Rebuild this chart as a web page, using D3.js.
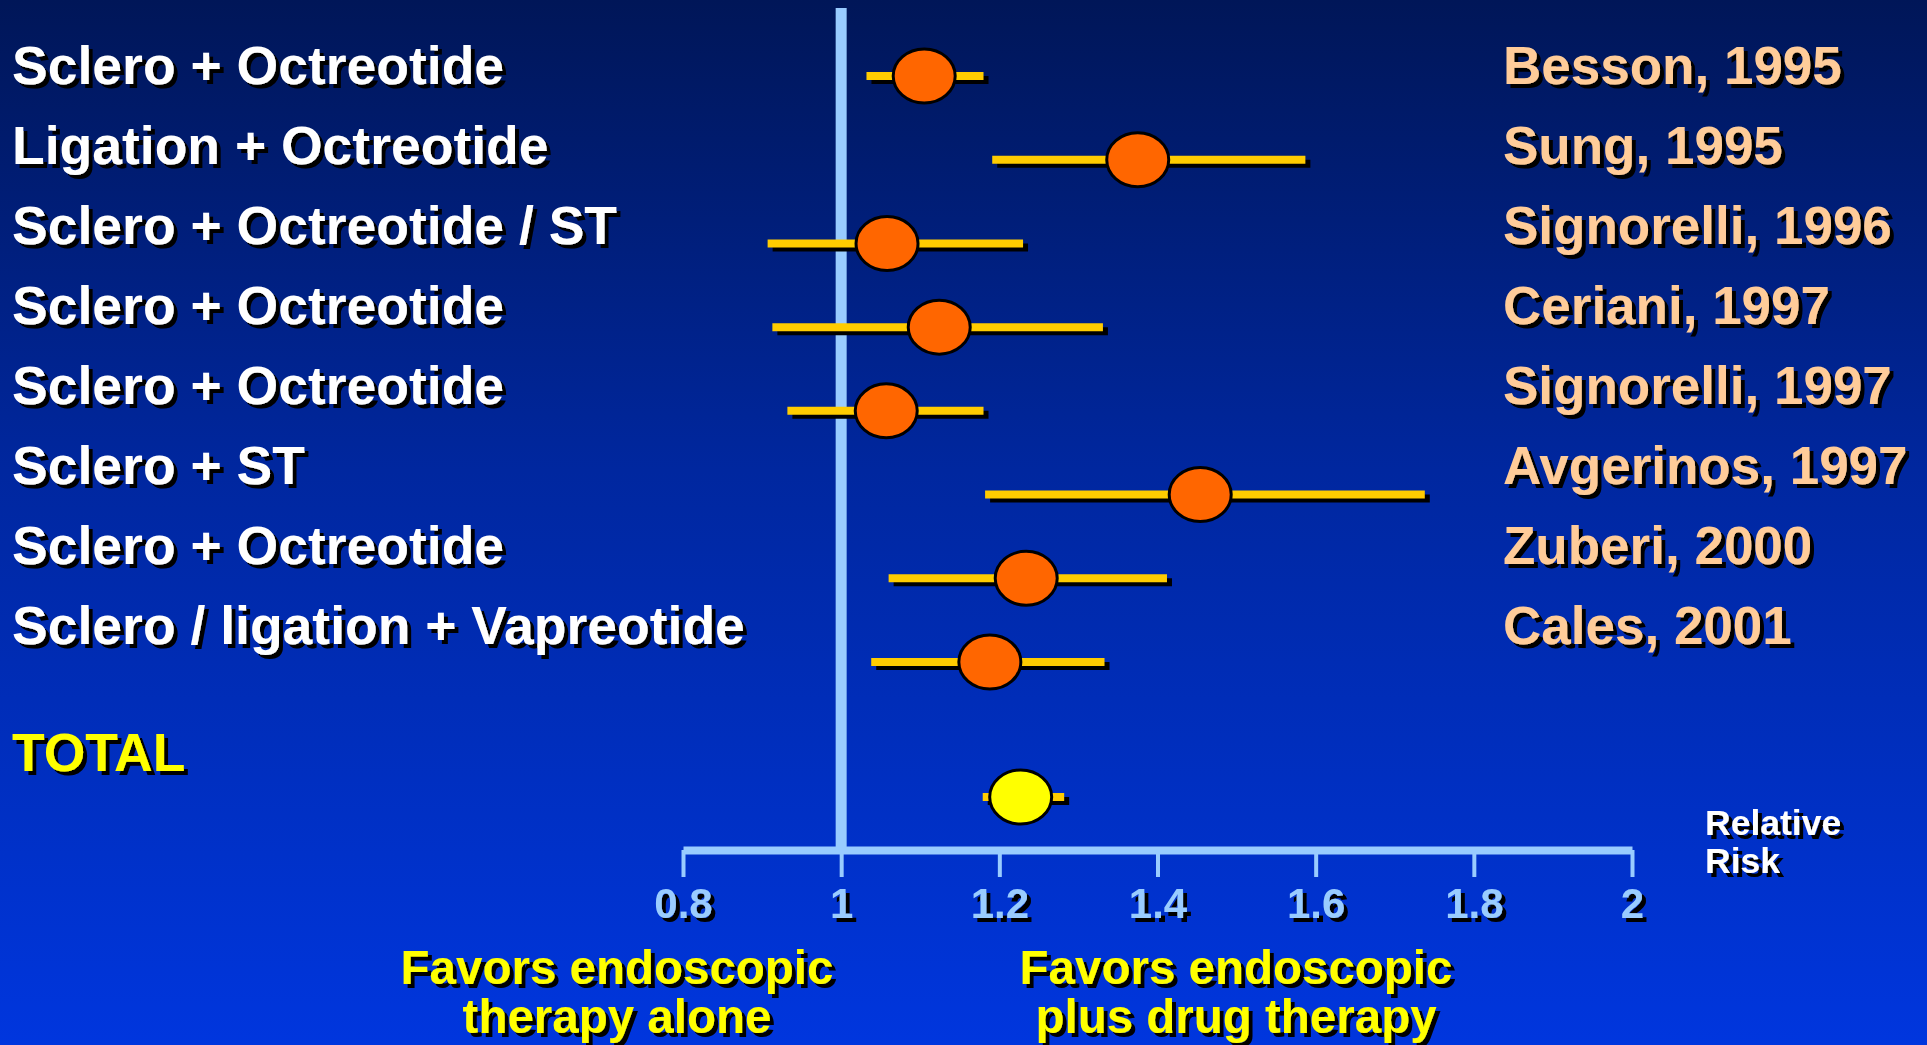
<!DOCTYPE html>
<html>
<head>
<meta charset="utf-8">
<script src="https://cdn.jsdelivr.net/npm/d3@7"></script>
<style>
  html, body { margin: 0; padding: 0; overflow: hidden; }
  #chart { width: 1927px; height: 1045px; }
  text { font-family: "Liberation Sans", Arial, sans-serif; font-weight: bold; }
</style>
</head>
<body>
<div id="chart"></div>
<script>
// treatments (left), studies (right), relative risk with confidence interval
const treatments = [
  "Sclero + Octreotide",
  "Ligation + Octreotide",
  "Sclero + Octreotide / ST",
  "Sclero + Octreotide",
  "Sclero + Octreotide",
  "Sclero + ST",
  "Sclero + Octreotide",
  "Sclero / ligation + Vapreotide"
];
const studies = [
  "Besson, 1995",
  "Sung, 1995",
  "Signorelli, 1996",
  "Ceriani, 1997",
  "Signorelli, 1997",
  "Avgerinos, 1997",
  "Zuberi, 2000",
  "Cales, 2001"
];
const rr     = [1.105, 1.375, 1.058, 1.124, 1.057, 1.454, 1.234, 1.188];
const ciLow  = [1.032, 1.191, 0.907, 0.913, 0.932, 1.182, 1.060, 1.038];
const ciHigh = [1.180, 1.587, 1.230, 1.331, 1.180, 1.738, 1.412, 1.333];

const totalLabel = "TOTAL";
const totalRR = [1.227];
const totalLow = [1.179];
const totalHigh = [1.282];

const xTicks = [0.8, 1, 1.2, 1.4, 1.6, 1.8, 2];
const axisTitle = ["Relative", "Risk"];
const favorsLeft = ["Favors endoscopic", "therapy alone"];
const favorsRight = ["Favors endoscopic", "plus drug therapy"];

const width = 1927, height = 1045;

const svg = d3.select("#chart").append("svg")
  .attr("width", width)
  .attr("height", height);

const defs = svg.append("defs");
const grad = defs.append("linearGradient")
  .attr("id", "bg").attr("x1", 0).attr("y1", 0).attr("x2", 0).attr("y2", 1);
grad.append("stop").attr("offset", "0%").attr("stop-color", "#001658");
grad.append("stop").attr("offset", "45%").attr("stop-color", "#00279f");
grad.append("stop").attr("offset", "100%").attr("stop-color", "#0036de");

const shadow = defs.append("filter").attr("id", "shadow")
  .attr("x", "-10%").attr("y", "-20%").attr("width", "130%").attr("height", "150%");
shadow.append("feDropShadow")
  .attr("dx", 4).attr("dy", 4).attr("stdDeviation", 0.6)
  .attr("flood-color", "#000").attr("flood-opacity", 1);

svg.append("rect").attr("width", width).attr("height", height).attr("fill", "url(#bg)");

// scales
const x = d3.scaleLinear().domain([0.8, 2]).range([683, 1632]);
const idx = d3.range(treatments.length);
const yMark = d3.scalePoint().domain(idx).range([76, 662]);   // CI / circles
const yText = d3.scalePoint().domain(idx).range([84, 644]);   // label baselines
const yTotalMark = 797, yTotalText = 771;
const axisY = 850;

// vertical reference line at RR = 1
svg.append("line")
  .attr("x1", x(1)).attr("x2", x(1))
  .attr("y1", 8).attr("y2", axisY)
  .attr("stroke", "#99ccff").attr("stroke-width", 11);

// axis
const axis = d3.axisBottom(x)
  .tickValues(xTicks)
  .tickFormat(d3.format(""))
  .tickSize(27)
  .tickSizeOuter(0)
  .tickPadding(11);

const gX = svg.append("g")
  .attr("transform", `translate(0,${axisY})`)
  .call(axis);
gX.select(".domain").attr("stroke", "#99ccff").attr("stroke-width", 8);
gX.selectAll(".tick line").attr("stroke", "#99ccff").attr("stroke-width", 4);
gX.selectAll(".tick text")
  .attr("fill", "#99ccff")
  .attr("font-size", 42)
  .attr("font-family", "'Liberation Sans', Arial, sans-serif")
  .attr("font-weight", "bold")
  .attr("filter", "url(#shadow)");

// CI whiskers with shadow, then circles
function drawStudy(g, lo, hi, mid, y, fill) {
  g.append("line")
    .attr("x1", x(lo) + 5).attr("x2", x(hi) + 5)
    .attr("y1", y + 4).attr("y2", y + 4)
    .attr("stroke", "#000").attr("stroke-width", 8);
  g.append("line")
    .attr("x1", x(lo)).attr("x2", x(hi))
    .attr("y1", y).attr("y2", y)
    .attr("stroke", "#ffcc00").attr("stroke-width", 8);
  g.append("ellipse")
    .attr("cx", x(mid)).attr("cy", y)
    .attr("rx", 31).attr("ry", 27)
    .attr("fill", fill)
    .attr("stroke", "#000").attr("stroke-width", 3);
}

const marks = svg.append("g");
idx.forEach(i => drawStudy(marks.append("g"), ciLow[i], ciHigh[i], rr[i], yMark(i), "#ff6600"));
drawStudy(marks.append("g"), totalLow[0], totalHigh[0], totalRR[0], yTotalMark, "#ffff00");

// left labels
svg.append("g").selectAll("text")
  .data(treatments)
  .join("text")
  .attr("x", 12)
  .attr("y", (d, i) => yText(i))
  .attr("font-size", 53.5)
  .attr("fill", "#fff")
  .attr("filter", "url(#shadow)")
  .text(d => d);

svg.append("text")
  .attr("x", 12).attr("y", yTotalText)
  .attr("font-size", 53.5)
  .attr("fill", "#ffff00")
  .attr("filter", "url(#shadow)")
  .text(totalLabel);

// right labels
svg.append("g").selectAll("text")
  .data(studies)
  .join("text")
  .attr("x", 1503)
  .attr("y", (d, i) => yText(i))
  .attr("font-size", 53)
  .attr("fill", "#ffcc99")
  .attr("filter", "url(#shadow)")
  .text(d => d);

// axis title
svg.append("g").selectAll("text")
  .data(axisTitle)
  .join("text")
  .attr("x", 1705)
  .attr("y", (d, i) => 835 + i * 38)
  .attr("font-size", 35.5)
  .attr("fill", "#fff")
  .attr("filter", "url(#shadow)")
  .text(d => d);

// favors notes
function favors(lines, cx) {
  svg.append("g").selectAll("text")
    .data(lines)
    .join("text")
    .attr("x", cx)
    .attr("y", (d, i) => 984 + i * 49)
    .attr("text-anchor", "middle")
    .attr("font-size", 47.5)
    .attr("fill", "#ffff00")
    .attr("filter", "url(#shadow)")
    .text(d => d);
}
favors(favorsLeft, 617);
favors(favorsRight, 1236);
</script>
</body>
</html>
